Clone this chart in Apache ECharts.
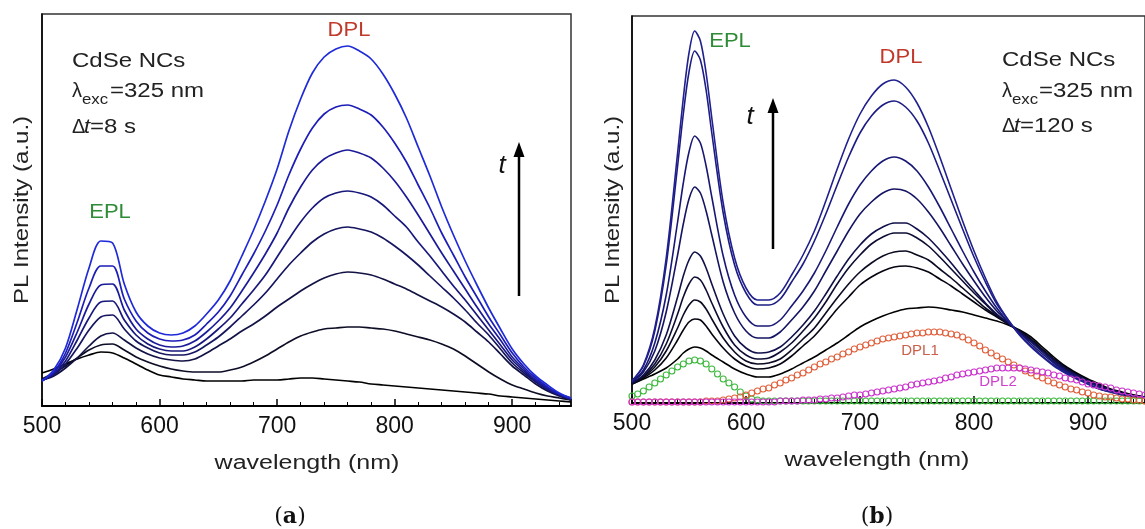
<!DOCTYPE html>
<html><head><meta charset="utf-8">
<script src="https://cdn.jsdelivr.net/npm/echarts@6/dist/echarts.min.js"></script>
<style>html,body{margin:0;padding:0;background:#fff}#c{width:1145px;height:529px}</style>
</head><body><div id="c"></div>
<script>
// ---------- DATA (heights above baseline, arbitrary units) ----------
const xTickLabels = [500, 600, 700, 800, 900];
// Panel (a): wavelengths, 10 nm step
const wlA = [500,510,520,530,540,550,560,570,580,590,600,610,620,630,640,650,660,670,680,690,700,710,720,730,740,750,760,770,780,790,800,810,820,830,840,850,860,870,880,890,900,910,920,930,940,950];
const specA1 = [33,37,42,47,51,54,53,48,42,36,31,29,27,26,25,25,25,25,26,26,26,27,28,28,27,26,25,24,22,21,20,19,18,17,16,15,14,13,12,10,9,8,7,6,5,4];
const specA2 = [27,33,40,48,56,61,62,56,49,44,40,37,35,34,34,34,36,39,44,50,57,64,70,74,77,78,79,79,78,77,75,72,69,66,62,57,50,42,34,27,21,17,13,10,8,6];
const specA3 = [26,30,38,48,60,70,73,66,58,52,48,46,45,47,53,60,67,75,82,90,99,107,115,122,128,132,134,133,131,127,122,117,111,105,99,92,84,74,64,52,40,31,22,15,10,6];
const specA4 = [26,31,42,58,76,89,91,77,65,58,53,51,51,54,61,69,79,90,101,113,127,141,153,164,172,177,179,177,174,168,160,151,141,130,119,108,96,83,71,57,43,33,24,16,11,6];
const specA5 = [26,32,45,66,88,104,105,86,71,62,57,55,55,59,67,77,88,102,116,131,149,167,184,198,208,213,215,213,209,201,190,179,164,150,135,120,106,91,76,61,46,35,25,17,11,7];
const specA6 = [25,33,49,74,102,121,122,96,77,67,61,59,60,65,74,85,98,115,133,152,173,198,219,236,247,253,256,253,248,238,225,209,191,172,153,135,117,99,82,66,49,37,26,18,12,7];
const specA7 = [25,34,53,84,118,140,140,107,85,73,67,65,66,71,82,94,110,131,152,175,201,231,257,278,292,299,301,297,291,279,263,244,221,198,173,151,129,109,89,71,53,39,28,19,12,8];
const specA8 = [25,36,58,97,138,165,163,122,94,80,73,71,73,80,92,106,125,150,176,205,237,275,307,333,349,357,360,355,347,332,312,288,259,230,199,171,145,121,98,77,57,42,30,21,13,8];

// Panel (b): wavelengths (denser around EPL peak)
const wlB = [500,510,520,530,540,545,550,555,560,565,570,580,590,600,610,620,630,640,650,660,670,680,690,700,710,720,730,740,750,760,770,780,790,800,810,820,830,840,850,860,870,880,890,900,910,920,930,940,950];
const specB1 = [19,24,29,35,44,50,54,56,55,52,48,41,34,29,26,26,29,34,40,46,53,60,68,76,82,87,91,94,95,96,95,93,91,88,85,82,78,73,66,56,46,37,30,24,19,14,11,8,6];
const specB2 = [19,25,33,45,63,73,81,84,83,77,69,55,44,37,34,35,39,47,57,67,80,94,106,118,126,132,136,137,135,131,124,117,109,101,93,86,79,72,64,54,44,36,29,23,18,13,10,8,6];
const specB3 = [19,26,36,52,75,88,98,103,101,94,84,65,51,42,39,40,44,53,64,75,90,105,119,131,140,147,151,152,148,143,134,125,115,105,95,87,79,72,63,53,44,35,28,23,18,13,10,7,6];
const specB4 = [20,27,39,59,89,106,119,126,123,113,100,76,58,48,44,45,51,60,72,85,101,119,135,148,159,166,170,170,165,157,146,134,122,110,99,88,80,71,63,53,43,35,28,22,17,13,10,7,6];
const specB5 = [20,28,43,68,106,127,143,151,147,135,119,89,67,55,50,51,56,66,78,92,109,127,144,158,169,176,180,180,174,165,153,140,126,113,100,89,80,71,62,52,43,34,28,22,17,13,10,7,6];
const specB6 = [21,31,52,91,148,179,204,216,210,192,168,121,90,72,65,65,71,83,96,112,132,152,172,189,201,210,214,212,204,191,175,157,139,122,106,92,81,70,61,51,41,33,27,21,16,12,9,7,6];
const specB7 = [21,33,60,108,181,220,251,267,260,237,206,147,108,86,77,77,83,97,112,130,152,176,199,218,232,242,246,242,232,216,196,174,152,131,112,95,81,70,59,49,40,32,26,21,16,12,9,7,5];
const specB8 = [22,37,72,138,237,289,331,352,343,313,270,190,138,110,98,98,104,121,139,162,189,218,246,270,287,298,302,296,282,260,232,203,174,146,121,99,83,68,57,47,38,31,25,19,14,11,8,6,5];
const specB9 = [22,38,75,145,250,305,350,372,362,330,285,200,145,115,103,103,110,128,148,172,202,234,264,289,307,319,323,316,300,276,246,214,182,152,125,101,83,68,56,46,37,30,24,19,14,11,8,6,5];

// Panel (b) fitted components, 5 nm step
const wlFit = [500,505,510,515,520,525,530,535,540,545,550,555,560,565,570,575,580,585,590,595,600,605,610,615,620,625,630,635,640,645,650,655,660,665,670,675,680,685,690,695,700,705,710,715,720,725,730,735,740,745,750,755,760,765,770,775,780,785,790,795,800,805,810,815,820,825,830,835,840,845,850,855,860,865,870,875,880,885,890,895,900,905,910,915,920,925,930,935,940,945,950];
const fitEPL = [7,9,12,16,20,24,28,32,36,39,42,43,42,39,34,29,24,20,16,11,7,4,3,2,2,2,2,2,2,2,2,2,2,2,2,2,2,2,2,2,2,2,2,2,2,2,2,2,2,2,2,2,2,2,2,2,2,2,2,2,2,2,2,2,2,2,2,2,2,2,2,2,2,2,2,2,2,2,2,2,2,2,2,2,2,2,2,2,2,2,2];
const fitDPL1 = [1,1,1,1,1,1,1,1,1,1,1,1,1,2,2,2,3,4,5,6,8,10,12,14,15,18,20,23,25,28,30,33,36,39,41,44,46,49,51,54,56,58,60,62,64,65,66,67,68,69,70,70,71,71,71,70,69,68,66,63,60,57,53,50,47,44,41,38,35,32,30,27,25,22,20,18,16,14,13,11,10,8,7,6,6,5,4,4,3,3,2];
const fitDPL2 = [1,1,1,1,1,1,1,1,1,1,1,1,1,1,1,1,1,1,1,1,1,1,1,1,1,1,2,2,2,2,3,3,3,4,4,5,5,6,7,8,8,9,10,11,12,13,14,15,16,18,19,20,21,22,23,25,26,28,29,30,31,32,33,34,35,35,35,35,35,34,33,32,31,30,28,27,25,24,23,21,19,18,17,16,15,13,12,11,10,9,8];

const colorsA = ['#000000','#0d0d26','#121245','#151560','#18187c','#1b1b99','#1d1db8','#1f2ad8'];
const colorsB = ['#000000','#050512','#0a0a22','#0d0d34','#10104a','#141462','#181874','#1c1c84','#20208e'];

// ---------- CHART ----------
const specsA = [specA1,specA2,specA3,specA4,specA5,specA6,specA7,specA8];
const specsB = [specB1,specB2,specB3,specB4,specB5,specB6,specB7,specB8,specB9];
const pair = (xs, ys) => xs.map((x, i) => [x, ys[i]]);

const chart = echarts.init(document.getElementById('c'), null, {renderer: 'canvas'});

function xAxisCfg(gi) {
  return {
    gridIndex: gi, type: 'value', min: 500, max: 950, interval: 100,
    axisLine: {show: true, onZero: false, lineStyle: {color: '#000', width: 2}},
    axisTick: {show: true, inside: true, length: 7, lineStyle: {color: '#000', width: 1.5}},
    minorTick: {show: true, splitNumber: 5, length: 4, lineStyle: {color: '#000', width: 1}},
    axisLabel: {show: true, margin: 9, color: '#111', fontSize: 23, fontFamily: 'Liberation Sans',
      showMaxLabel: false, showMinLabel: true,
      formatter: v => (xTickLabels.indexOf(v) >= 0 ? String(v) : '')},
    splitLine: {show: false}, minorSplitLine: {show: false}
  };
}
function yAxisCfg(gi, max) {
  return {
    gridIndex: gi, type: 'value', min: 0, max: max,
    axisLine: {show: true, onZero: false, lineStyle: {color: '#000', width: 1.5}},
    axisTick: {show: false}, axisLabel: {show: false}, splitLine: {show: false}
  };
}

const series = [];
specsA.forEach((s, i) => series.push({
  type: 'line', xAxisIndex: 0, yAxisIndex: 0, data: pair(wlA, s), showSymbol: false,
  smooth: 0.3, lineStyle: {color: colorsA[i], width: 1.7}, z: 2 + i, silent: true
}));
specsB.forEach((s, i) => series.push({
  type: 'line', xAxisIndex: 1, yAxisIndex: 1, data: pair(wlB, s), showSymbol: false,
  smooth: 0.3, lineStyle: {color: colorsB[i], width: 1.6}, z: 2 + i, silent: true
}));
[[fitEPL, '#3cb83c'], [fitDPL1, '#e0603c'], [fitDPL2, '#cc33cc']].forEach((f, i) => series.push({
  type: 'line', xAxisIndex: 1, yAxisIndex: 1, data: pair(wlFit, f[0]), showSymbol: true,
  symbol: 'circle', symbolSize: 6,
  itemStyle: {color: 'rgba(255,255,255,0)', borderColor: f[1], borderWidth: 1.1},
  lineStyle: {width: 0, opacity: 0}, z: 20 + i, silent: true
}));

const FONT = '"Liberation Sans", Arial, sans-serif';
function T(x, y, text, o) {
  o = o || {};
  return {
    type: 'text', x: x, y: y, rotation: o.rot || 0, scaleX: o.sx || 1, z: 100,
    style: {
      text: text, x: 0, y: 0,
      font: (o.style || '') + ' ' + (o.weight || '') + ' ' + (o.fs || 20) + 'px ' + (o.family || FONT),
      fill: o.color || '#222', textAlign: o.align || 'left', textVerticalAlign: 'middle',
      rich: o.rich
    }
  };
}

const g = [];
// panel (a) annotations
g.push(T(72, 61, 'CdSe NCs', {sx: 1.2}));
g.push(T(72, 91, 'λ', {sx: 1.0}));
g.push(T(82, 100, 'exc', {fs: 14, sx: 1.2}));
g.push(T(110, 91, '=325 nm', {sx: 1.2}));
g.push(T(72, 127, 'Δ', {sx: 1.0}));
g.push(T(84, 127, 't', {style: 'italic', sx: 1.1}));
g.push(T(90, 127, '=8 s', {sx: 1.2}));
g.push(T(110, 212, 'EPL', {color: '#2e8b36', align: 'center', sx: 1.1}));
g.push(T(349, 30, 'DPL', {color: '#c0392b', align: 'center', sx: 1.1}));
g.push(T(502, 166, 't', {style: 'italic', fs: 26, color: '#111', align: 'center'}));
// panel (b) annotations
g.push(T(1002, 60, 'CdSe NCs', {sx: 1.2}));
g.push(T(1002, 91, 'λ', {sx: 1.0}));
g.push(T(1012, 100, 'exc', {fs: 14, sx: 1.2}));
g.push(T(1039, 91, '=325 nm', {sx: 1.2}));
g.push(T(1002, 126, 'Δ', {sx: 1.0}));
g.push(T(1014, 126, 't', {style: 'italic', sx: 1.1}));
g.push(T(1020, 126, '=120 s', {sx: 1.2}));
g.push(T(730, 41, 'EPL', {color: '#2e8b36', align: 'center', sx: 1.1}));
g.push(T(901, 57, 'DPL', {color: '#c0392b', align: 'center', sx: 1.1}));
g.push(T(920, 351, 'DPL1', {color: '#c8604a', align: 'center', fs: 15}));
g.push(T(998, 382, 'DPL2', {color: '#d040d0', align: 'center', fs: 15}));
g.push(T(750, 117, 't', {style: 'italic', fs: 26, color: '#111', align: 'center'}));
// axis names
g.push(T(307, 463, 'wavelength (nm)', {align: 'center', sx: 1.25}));
g.push(T(877, 460, 'wavelength (nm)', {align: 'center', sx: 1.25}));
g.push(T(22, 210, 'PL Intensity (a.u.)', {align: 'center', sx: 1.2, rot: Math.PI / 2}));
g.push(T(613, 210, 'PL Intensity (a.u.)', {align: 'center', sx: 1.2, rot: Math.PI / 2}));
// panel captions
g.push(T(290, 517, '({b|a})', {align: 'center', fs: 22, family: '"DejaVu Serif", serif', color: '#111',
  rich: {b: {fontWeight: 'bold', fontSize: 22, fontFamily: 'DejaVu Serif', fill: '#111'}}}));
g.push(T(877, 517, '({b|b})', {align: 'center', fs: 22, family: '"DejaVu Serif", serif', color: '#111',
  rich: {b: {fontWeight: 'bold', fontSize: 22, fontFamily: 'DejaVu Serif', fill: '#111'}}}));
// arrows (t direction)
g.push({type: 'line', z: 100, shape: {x1: 519, y1: 296, x2: 519, y2: 152}, style: {stroke: '#000', lineWidth: 2.5}});
g.push({type: 'polygon', z: 100, shape: {points: [[519, 142], [513.5, 157], [524.5, 157]]}, style: {fill: '#000'}});
g.push({type: 'line', z: 100, shape: {x1: 773, y1: 249, x2: 773, y2: 108}, style: {stroke: '#000', lineWidth: 2.5}});
g.push({type: 'polygon', z: 100, shape: {points: [[773, 98], [767.5, 113], [778.5, 113]]}, style: {fill: '#000'}});

chart.setOption({
  animation: false,
  backgroundColor: '#ffffff',
  grid: [
    {left: 42, top: 14, width: 529, height: 392, show: true, borderColor: '#333', borderWidth: 1.5, containLabel: false},
    {left: 632, top: 16, width: 525, height: 387, show: true, borderColor: '#333', borderWidth: 1.5, containLabel: false}
  ],
  xAxis: [xAxisCfg(0), xAxisCfg(1)],
  yAxis: [yAxisCfg(0, 392), yAxisCfg(1, 387)],
  series: series,
  graphic: {elements: g}
});
</script>
</body></html>
